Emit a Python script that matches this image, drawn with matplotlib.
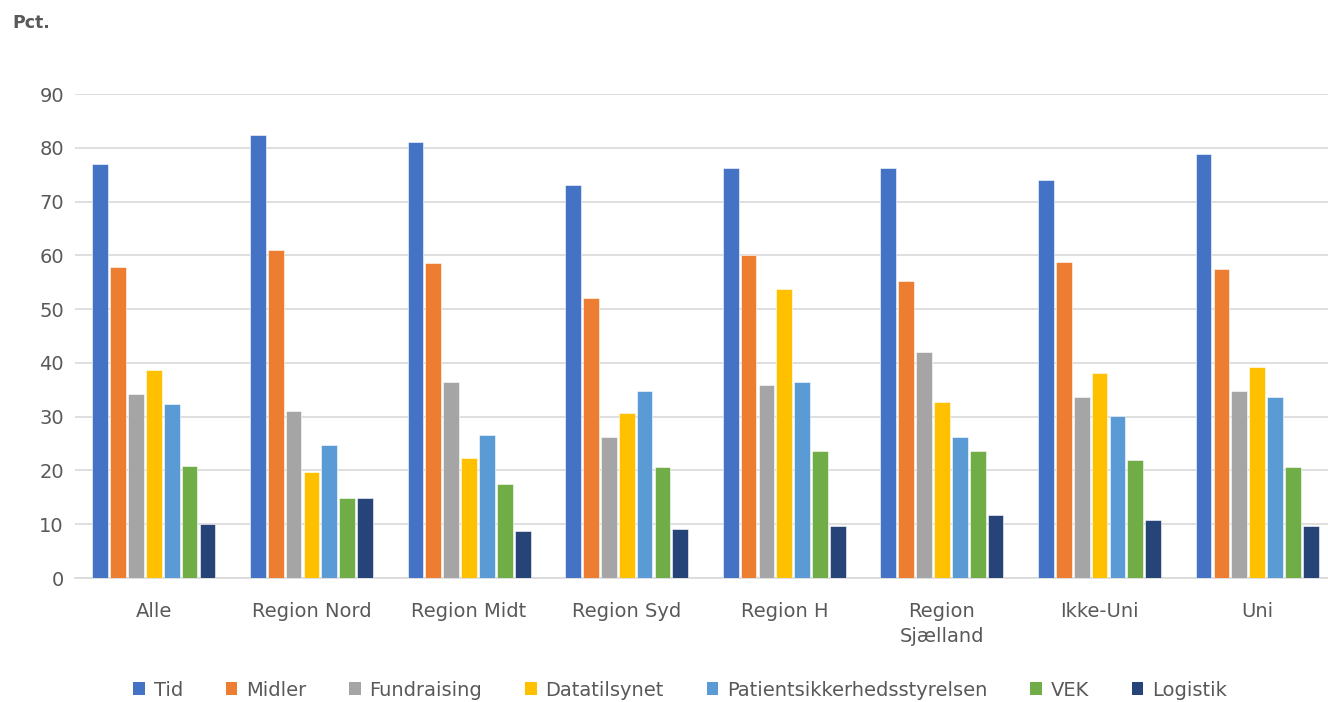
import numpy as np
import matplotlib
matplotlib.use('Agg')
from matplotlib import pyplot as plt
from matplotlib.patches import Patch

categories = ['Alle', 'Region Nord', 'Region Midt', 'Region Syd', 'Region H',
              'Region\nSjælland', 'Ikke-Uni', 'Uni']
series_names = ['Tid', 'Midler', 'Fundraising', 'Datatilsynet',
                'Patientsikkerhedsstyrelsen', 'VEK', 'Logistik']

tid = [76.9, 82.4, 81.1, 73.0, 76.2, 76.2, 74.0, 78.9]
midler = [57.8, 61.0, 58.5, 52.0, 60.1, 55.3, 58.8, 57.5]
fundraising = [34.2, 31.0, 36.5, 26.2, 35.9, 42.0, 33.7, 34.7]
datatilsynet = [38.7, 19.7, 22.4, 30.7, 53.7, 32.7, 38.2, 39.2]
patientsik = [32.3, 24.8, 26.6, 34.7, 36.5, 26.2, 30.1, 33.7]
vek = [20.9, 14.8, 17.5, 20.7, 23.7, 23.7, 22.0, 20.7]
logistik = [10.0, 14.8, 8.8, 9.1, 9.7, 11.7, 10.7, 9.7]

all_series = [tid, midler, fundraising, datatilsynet, patientsik, vek, logistik]
colors = ['#4472C4', '#ED7D31', '#A5A5A5', '#FFC000', '#5B9BD5', '#70AD47', '#264478']

txt = '#595959'
plt.rcParams['font.family'] = ['DejaVu Sans']

fig = plt.figure(figsize=(13.28, 7.02), dpi=100)
# plot area taken from the reference pixel positions
ax = fig.add_axes([75/1328, 1-578/702, (1336-75)/1328, (578-94)/702])

x = np.arange(len(categories))
slot = 0.1135
width = 0.1
for i, (vals, col) in enumerate(zip(all_series, colors)):
    offs = (i - 3) * slot
    ax.bar(x + offs, vals, width=width, color=col, edgecolor='white', linewidth=0.4, zorder=3)

ax.set_xlim(-0.5, len(categories) - 0.5)
ax.set_ylim(0, 90)
ax.set_yticks(np.arange(0, 91, 10))
ax.grid(axis='y', color='#d9d9d9', linewidth=1.2, zorder=0)
for s in ['top', 'right', 'left']:
    ax.spines[s].set_visible(False)
ax.spines['bottom'].set_color('#d9d9d9')
ax.spines['bottom'].set_linewidth(1.2)
ax.tick_params(axis='both', length=0, colors=txt, labelsize=14)
ax.tick_params(axis='y', pad=8)
ax.tick_params(axis='x', pad=17)
ax.set_xticks(x)
ax.set_xticklabels(categories, linespacing=1.45)

fig.text(12/1328, 1-23/702, 'Pct.', fontsize=12.5, fontweight='bold', color=txt, va='center')

handles = [Patch(facecolor=c, edgecolor='none') for c in colors]
fig.legend(handles, series_names, loc='center', bbox_to_anchor=(680/1328, 1-690/702),
           ncol=7, frameon=False, fontsize=14, handlelength=0.6, handleheight=0.6,
           handletextpad=0.45, columnspacing=2.2, labelcolor=txt)

fig.savefig('out.png', dpi=100)
